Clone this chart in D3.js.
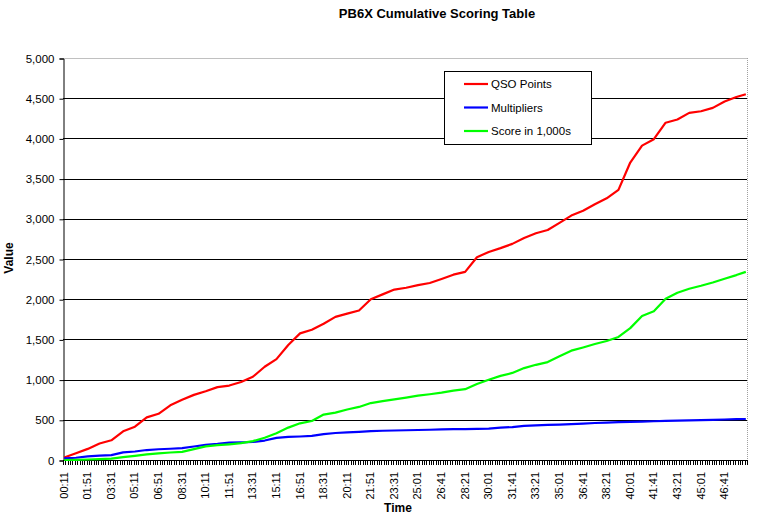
<!DOCTYPE html>
<html>
<head>
<meta charset="utf-8">
<script src="https://cdn.jsdelivr.net/npm/d3@7"></script>
<style>
  html, body { margin: 0; padding: 0; background: #fff; }
  svg { display: block; }
  text { font-family: Arial, "Liberation Sans", sans-serif; fill: #000; }
</style>
</head>
<body>
<svg id="chart" width="772" height="522"></svg>
<script>
// ---------------- data ----------------
const title = "PB6X Cumulative Scoring Table";
const xTitle = "Time";
const yTitle = "Value";
const categoryCount = 290;          // 10-minute bins on the category axis
const labelEvery = 10;              // a time label on every 10th bin
const tickLabels = ["00:11","01:51","03:31","05:11","06:51","08:31","10:11","11:51","13:31","15:11",
  "16:51","18:31","20:11","21:51","23:31","25:01","26:41","28:21","30:01","31:41",
  "33:21","35:01","36:41","38:21","40:01","41:41","43:21","45:01","46:41"];
const yTicks = [0,500,1000,1500,2000,2500,3000,3500,4000,4500,5000];
const seriesNames = ["QSO Points","Multipliers","Score in 1,000s"];
const seriesColors = ["#ff0000","#0000ff","#00ff00"];

// bin index of every read-off value
const sampleBins = [0,5,10,15,20,25,30,35,40,45,50,55,60,65,70,75,80,85,90,95,
  100,105,110,115,120,125,130,135,140,145,150,155,160,165,170,175,180,185,190,195,
  200,205,210,215,220,225,230,235,240,245,250,255,260,265,270,275,280,285,289];

const qsoPoints = [30,85,138,205,245,357,414,530,575,680,748,810,855,906,926,970,1035,1160,1255,1430,
  1575,1620,1695,1780,1820,1860,2000,2060,2120,2142,2175,2202,2252,2305,2340,2522,2588,2635,2688,2760,
  2820,2860,2950,3040,3100,3180,3255,3360,3700,3910,3990,4195,4235,4318,4338,4380,4460,4515,4550];

const multipliers = [20,28,45,55,60,95,106,124,134,140,148,168,189,200,215,219,224,242,275,287,
  292,300,322,336,344,351,358,364,367,370,373,376,380,383,385,388,390,402,410,424,
  430,436,441,447,452,460,466,470,474,478,482,486,490,493,497,500,504,508,510];

const scoreK = [0,2,6,12,18,35,52,69,83,93,101,136,170,184,195,209,235,276,333,403,
  456,485,565,590,628,660,708,732,755,776,800,818,838,862,881,946,998,1046,1083,1143,
  1184,1218,1290,1360,1400,1443,1480,1530,1640,1790,1850,2005,2080,2130,2167,2208,2255,2300,2340];

// ---------------- chart ----------------
const svg = d3.select("#chart");
const plot = {left: 63, right: 747, top: 58, bottom: 460};

const x = d3.scaleBand()
  .domain(d3.range(categoryCount))
  .range([plot.left, plot.right])
  .paddingInner(0).paddingOuter(0);
const y = d3.scaleLinear().domain([0, 5000]).range([plot.bottom, plot.top]);

// plot area border (top solid grey, right dotted grey)
svg.append("line").attr("x1", plot.left).attr("x2", plot.right)
  .attr("y1", plot.top + 0.5).attr("y2", plot.top + 0.5)
  .attr("stroke", "#c0c0c0").attr("stroke-width", 1);
svg.append("line").attr("x1", plot.right + 0.5).attr("x2", plot.right + 0.5)
  .attr("y1", plot.top).attr("y2", plot.bottom)
  .attr("stroke", "#a0a0a0").attr("stroke-width", 1).attr("stroke-dasharray", "1,1");

// gridlines
svg.append("g").selectAll("line")
  .data(yTicks.filter(v => v > 0 && v < 5000))
  .join("line")
  .attr("x1", plot.left).attr("x2", plot.right)
  .attr("y1", d => Math.round(y(d)) + 0.5).attr("y2", d => Math.round(y(d)) + 0.5)
  .attr("stroke", "#000").attr("stroke-width", 1);

// y axis
const yAxis = d3.axisLeft(y).tickValues(yTicks).tickSize(4).tickPadding(5)
  .tickFormat(d3.format(","));
const gy = svg.append("g").attr("transform", `translate(${plot.left + 0.5},0.5)`).call(yAxis);
gy.select(".domain").attr("stroke", "#000");
gy.selectAll(".tick line").attr("stroke", "#000");
gy.selectAll(".tick text").style("font-size", "11.5px").style("font-family", "Arial, 'Liberation Sans', sans-serif");

// x axis: tick marks at every bin boundary
const bw = x.bandwidth();
const gx = svg.append("g");
gx.append("line").attr("x1", plot.left).attr("x2", plot.right)
  .attr("y1", plot.bottom + 0.5).attr("y2", plot.bottom + 0.5).attr("stroke", "#000");
gx.selectAll("line.tk")
  .data(d3.range(categoryCount + 1))
  .join("line").attr("class", "tk")
  .attr("x1", d => Math.round(plot.left + d * bw) + 0.5)
  .attr("x2", d => Math.round(plot.left + d * bw) + 0.5)
  .attr("y1", plot.bottom).attr("y2", plot.bottom + 5)
  .attr("stroke", "#000").attr("stroke-width", 1);
gx.selectAll("text.lbl")
  .data(tickLabels)
  .join("text").attr("class", "lbl")
  .attr("transform", (d, i) => `translate(${x(i * labelEvery) + bw / 2 + 3.5},472) rotate(-90)`)
  .attr("text-anchor", "end")
  .style("font-size", "11px")
  .text(d => d);

// series lines
const series = [qsoPoints, multipliers, scoreK];
const line = d3.line()
  .x((d, i) => x(sampleBins[i]) + bw / 2)
  .y(d => y(d));
svg.append("g").selectAll("path")
  .data(series)
  .join("path")
  .attr("d", d => line(d))
  .attr("fill", "none")
  .attr("stroke", (d, i) => seriesColors[i])
  .attr("stroke-width", 2.2)
  .attr("stroke-linejoin", "round");

// titles
svg.append("text").attr("x", 437).attr("y", 18).attr("text-anchor", "middle")
  .style("font-size", "13px").style("font-weight", "bold").text(title);
svg.append("text").attr("x", 398).attr("y", 512).attr("text-anchor", "middle")
  .style("font-size", "12px").style("font-weight", "bold").text(xTitle);
svg.append("text").attr("transform", "translate(13,258) rotate(-90)").attr("text-anchor", "middle")
  .style("font-size", "12px").style("font-weight", "bold").text(yTitle);

// legend
const lg = svg.append("g");
lg.append("rect").attr("x", 444.5).attr("y", 71.5).attr("width", 147).attr("height", 73)
  .attr("fill", "#fff").attr("stroke", "#000").attr("stroke-width", 1);
const rows = lg.selectAll("g.row").data(seriesNames).join("g").attr("class", "row")
  .attr("transform", (d, i) => `translate(0,${84 + i * 23.5})`);
rows.append("line").attr("x1", 464).attr("x2", 488).attr("y1", 0).attr("y2", 0)
  .attr("stroke", (d, i) => seriesColors[i]).attr("stroke-width", 2.2);
rows.append("text").attr("x", 491).attr("y", 4).style("font-size", "11.5px").text(d => d);
</script>
</body>
</html>
